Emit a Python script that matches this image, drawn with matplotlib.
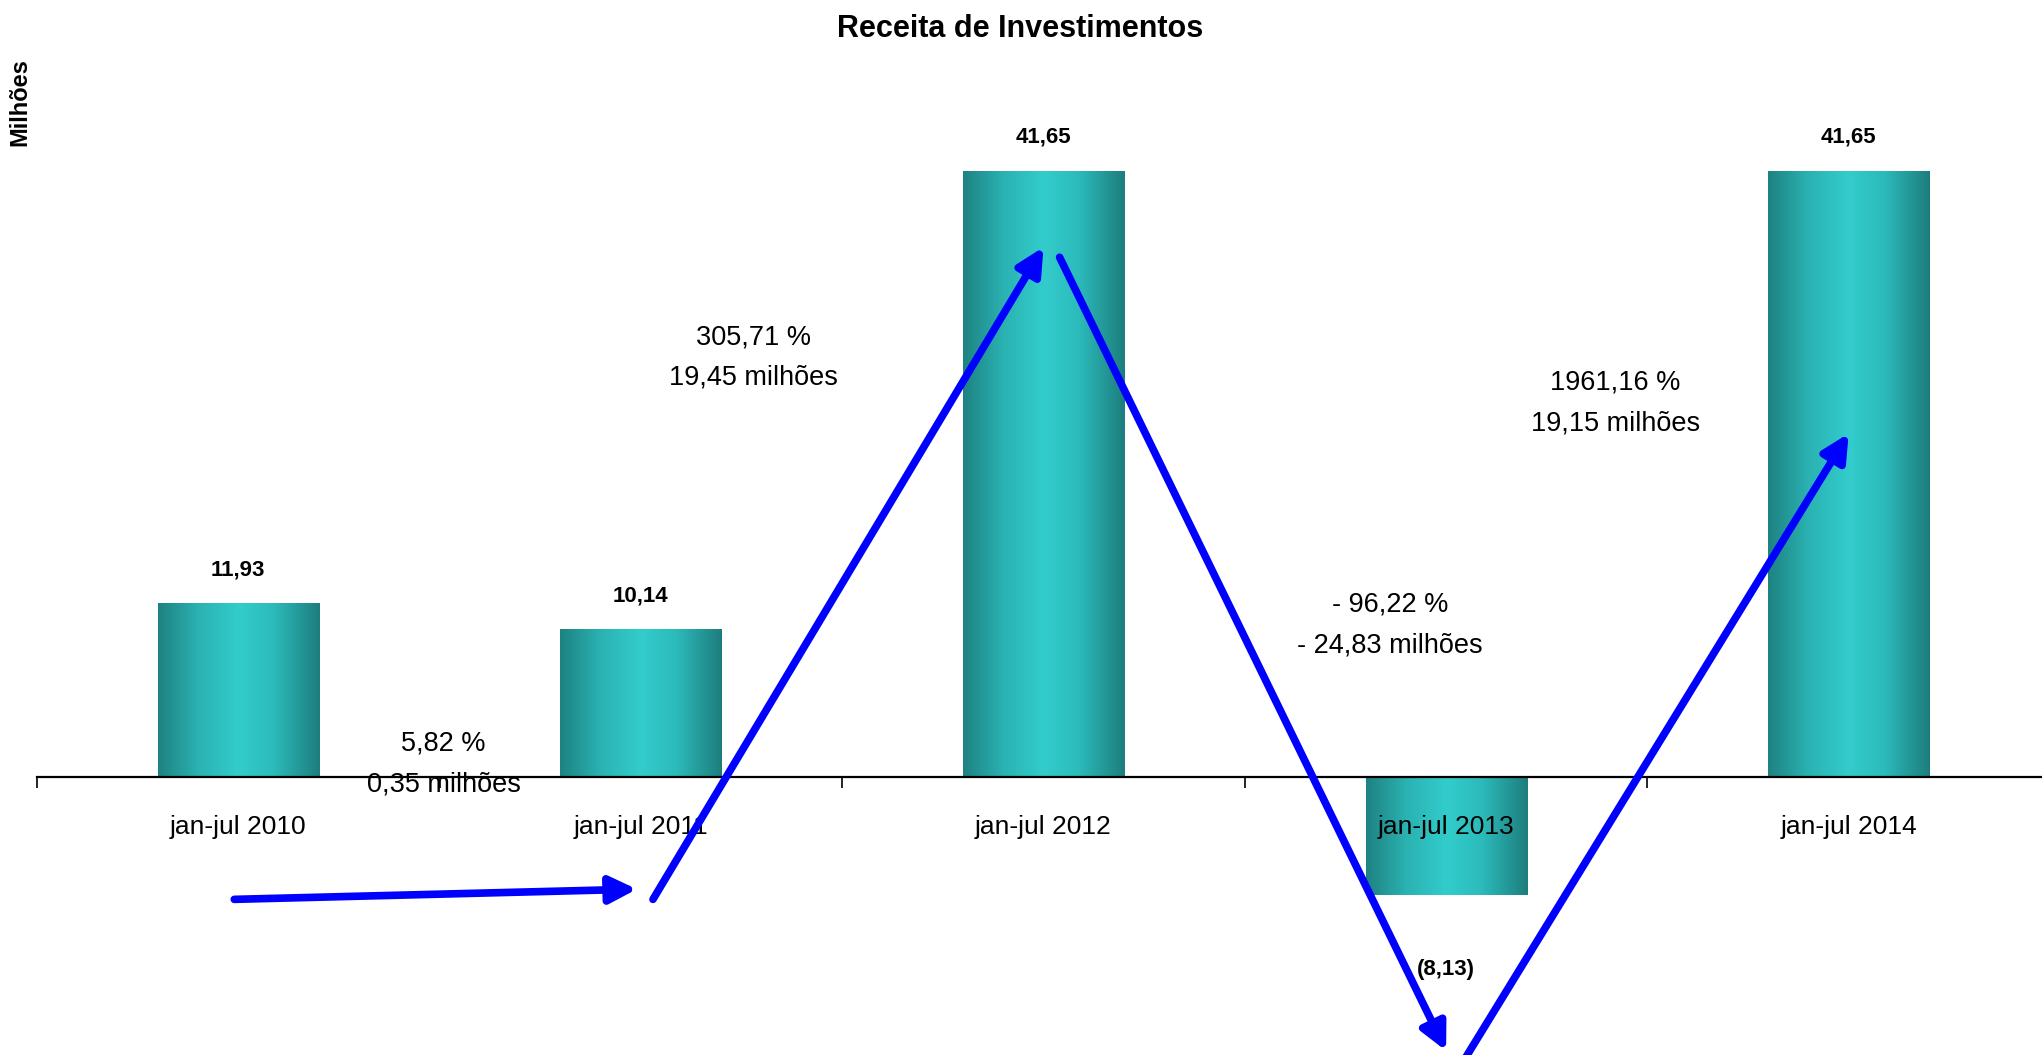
import numpy as np
import matplotlib
matplotlib.use('Agg')
import matplotlib.pyplot as plt
from matplotlib.colors import LinearSegmentedColormap

########## Data ##########

categories = ['jan-jul 2010', 'jan-jul 2011', 'jan-jul 2012', 'jan-jul 2013', 'jan-jul 2014']
values = [11.93, 10.14, 41.65, -8.13, 41.65]
value_labels = ['11,93', '10,14', '41,65', '(8,13)', '41,65']

# variation notes between years: (x, y, text)
change_notes = [
    (0.51, 0.9, '5,82 %\n0,35 milhões'),
    (1.28, 28.8, '305,71 %\n19,45 milhões'),
    (2.86, 10.45, '- 96,22 %\n- 24,83 milhões'),
    (3.42, 25.7, '1961,16 %\n19,15 milhões'),
]

# blue trend arrows (x0, y0, x1, y1) in data units
arrow_paths = [
    (-0.01, -8.4, 0.99, -7.7),
    (1.03, -8.4, 2.0, 36.4),
    (2.04, 35.7, 3.0, -18.8),
    (3.05, -19.2, 4.0, 23.6),
]

########## Plotting ##########

plt.rcParams['font.family'] = ['Liberation Sans', 'DejaVu Sans']

fig = plt.figure(figsize=(20.42, 10.55), dpi=100)
ax = fig.add_axes([37 / 2042, 0, 2013 / 2042, 1])

x = np.arange(len(categories))
bar_w = 0.4

grad_cmap = LinearSegmentedColormap.from_list(
    'teal', [(0, '#1e8282'), (0.25, '#2bb2b2'), (0.5, '#33cccc'),
             (0.72, '#2cbaba'), (1.0, '#1d7d7d')])
grad = np.linspace(0, 1, 256).reshape(1, -1)

bars = ax.bar(x, values, width=bar_w, color='none', edgecolor='none', zorder=1)
for b in bars:
    x0, y0 = b.get_x(), b.get_y()
    x1, y1 = x0 + b.get_width(), y0 + b.get_height()
    im = ax.imshow(grad, extent=[x0, x1, min(y0, y1), max(y0, y1)],
                   aspect='auto', cmap=grad_cmap, zorder=0.5)
    im.set_clip_path(b)

# value labels
for xi, v, lab in zip(x, values, value_labels):
    if v >= 0:
        ax.text(xi, v + 2.3, lab, ha='center', va='center', fontsize=16,
                fontweight='bold', zorder=5)
    else:
        ax.text(xi, v - 5.1, lab, ha='center', va='center', fontsize=16,
                fontweight='bold', zorder=5)

for nx, ny, txt in change_notes:
    ax.text(nx, ny, txt, ha='center', va='center', fontsize=19.5,
            linespacing=1.72, zorder=5)

for x0, y0, x1, y1 in arrow_paths:
    ax.annotate('', xy=(x1, y1), xytext=(x0, y0),
                arrowprops=dict(arrowstyle='-|>,head_length=0.8,head_width=0.4',
                                lw=5.5, color='#0000ff', shrinkA=0, shrinkB=0,
                                mutation_scale=20),
                zorder=4, annotation_clip=False)

ax.set_xlim(-0.5, 4.5)
ax.set_ylim(-19.09, 53.37)

for s in ['top', 'right', 'left']:
    ax.spines[s].set_visible(False)
ax.spines['bottom'].set_position(('data', 0))
ax.spines['bottom'].set_linewidth(1.6)
ax.set_yticks([])
ax.set_xticks(x)
ax.set_xticklabels(categories, fontsize=19)
ax.set_xticks(np.arange(-0.5, 5, 1), minor=True)
ax.tick_params(axis='x', which='major', length=0, pad=27)
ax.tick_params(axis='x', which='minor', length=8, width=1.2, direction='out')
for t in ax.get_xticklabels():
    t.set_zorder(3)

fig.text(1020 / 2042, 1 - 29 / 1055, 'Receita de Investimentos', ha='center',
         va='center', fontsize=22, fontweight='bold')
fig.text(20 / 2042, 1 - 102 / 1055, 'Milhões', rotation=90, ha='center',
         va='center', fontsize=17, fontweight='bold')

plt.savefig('out.png', dpi=100)
